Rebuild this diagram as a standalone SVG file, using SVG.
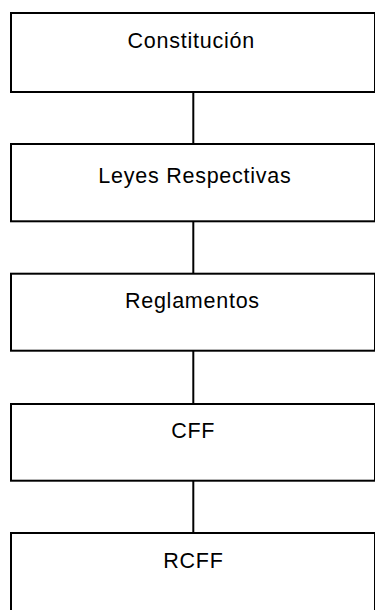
<svg xmlns="http://www.w3.org/2000/svg" width="375" height="610" viewBox="0 0 375 610">
<style>
.box{fill:#ffffff;stroke:#000000;stroke-width:2}
.lbl{font-family:"Liberation Sans",Arial,sans-serif;font-size:21.5px;letter-spacing:0.75px;fill:#000000;text-anchor:middle}
.conn{stroke:#000000;stroke-width:2;fill:none}
</style>
<rect x="0" y="0" width="375" height="610" fill="#ffffff"/>
<g id="connectors">
<line class="conn" x1="193.3" y1="92" x2="193.3" y2="144"/>
<line class="conn" x1="193.3" y1="221.3" x2="193.3" y2="273.7"/>
<line class="conn" x1="193.3" y1="350.7" x2="193.3" y2="404"/>
<line class="conn" x1="193.3" y1="480.7" x2="193.3" y2="533"/>
</g>
<g id="constitucion">
<rect class="box" x="11" y="13" width="364" height="79"/>
<text class="lbl" x="191.2" y="47.7">Constitución</text>
</g>
<g id="leyes">
<rect class="box" x="11" y="144" width="364" height="77.3"/>
<text class="lbl" x="194.9" y="182.7">Leyes Respectivas</text>
</g>
<g id="reglamentos">
<rect class="box" x="11" y="273.7" width="364" height="77"/>
<text class="lbl" x="192.4" y="307.7">Reglamentos</text>
</g>
<g id="cff">
<rect class="box" x="11" y="404" width="364" height="76.7"/>
<text class="lbl" x="193.2" y="437.7">CFF</text>
</g>
<g id="rcff">
<rect class="box" x="11" y="533" width="364" height="90"/>
<text class="lbl" x="193.4" y="567.7">RCFF</text>
</g>
</svg>
